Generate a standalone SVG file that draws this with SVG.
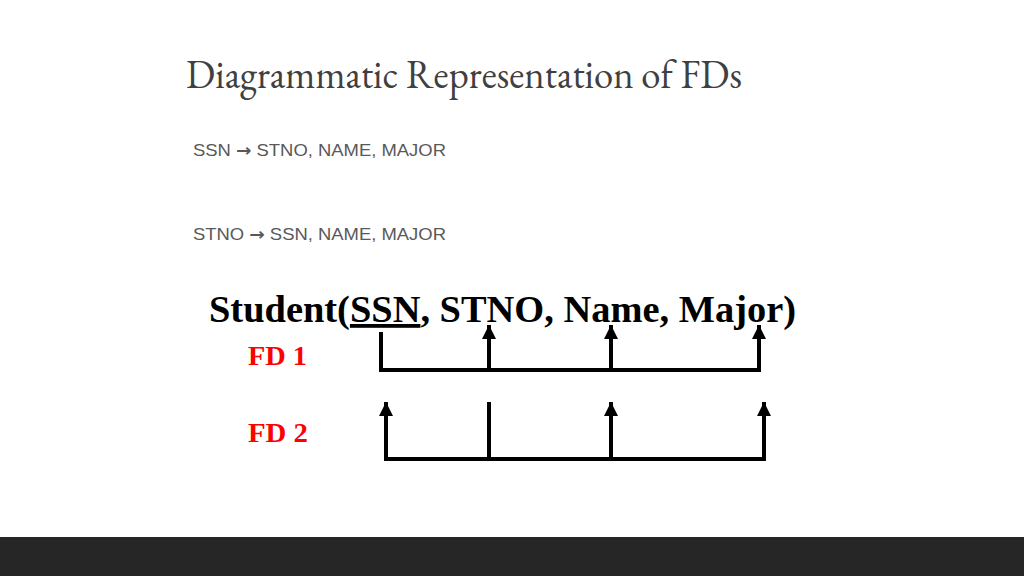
<svg xmlns="http://www.w3.org/2000/svg" width="1024" height="576" viewBox="0 0 1024 576">
<defs>
<style>
.title{font-family:"EB Garamond","Liberation Serif","DejaVu Serif",serif;font-size:40px;fill:#404040}
.fd{font-family:"Liberation Sans",Arial,sans-serif;font-size:17px;fill:#595959}
.arw{font-family:"DejaVu Sans",sans-serif;font-weight:bold}
.rel{font-family:"Liberation Serif","Times New Roman",serif;font-size:38px;font-weight:bold;fill:#000}
.lab{font-family:"Liberation Serif","Times New Roman",serif;font-size:28px;font-weight:bold;fill:#ff0000}
.ln{fill:none;stroke:#000;stroke-width:4;stroke-linejoin:miter}
</style>
<marker id="ah" markerUnits="userSpaceOnUse" markerWidth="16" markerHeight="16" refX="14" refY="7" orient="auto">
<path d="M0,0 L14,7 L0,14 z" fill="#000"/>
</marker>
</defs>
<rect width="1024" height="576" fill="#ffffff"/>
<g id="title"><text class="title" x="186" y="88" textLength="556" lengthAdjust="spacingAndGlyphs">Diagrammatic Representation of FDs</text></g>
<g id="fd-text-1"><text class="fd" x="193" y="156" textLength="253" lengthAdjust="spacingAndGlyphs">SSN <tspan class="arw">→</tspan> STNO, NAME, MAJOR</text></g>
<g id="fd-text-2"><text class="fd" x="193" y="240" textLength="253" lengthAdjust="spacingAndGlyphs">STNO <tspan class="arw">→</tspan> SSN, NAME, MAJOR</text></g>
<g id="relation"><text class="rel" x="209" y="322" textLength="587" lengthAdjust="spacingAndGlyphs">Student(<tspan text-decoration="underline">SSN</tspan>, STNO, Name, Major)</text></g>
<g id="label-fd1"><text class="lab" x="248" y="365" textLength="59" lengthAdjust="spacingAndGlyphs">FD 1</text></g>
<g id="label-fd2"><text class="lab" x="248" y="442" textLength="60" lengthAdjust="spacingAndGlyphs">FD 2</text></g>
<g id="connectors">
<path class="ln" d="M381,332 V370 H759 V339"/>
<line class="ln" x1="489" y1="370" x2="489" y2="325" marker-end="url(#ah)"/>
<line class="ln" x1="611" y1="370" x2="611" y2="325" marker-end="url(#ah)"/>
<line class="ln" x1="759" y1="372" x2="759" y2="325" marker-end="url(#ah)"/>
<path class="ln" d="M386,417 V459 H764 V417"/>
<line class="ln" x1="386" y1="459" x2="386" y2="402" marker-end="url(#ah)"/>
<line class="ln" x1="489" y1="459" x2="489" y2="402"/>
<line class="ln" x1="611" y1="459" x2="611" y2="402" marker-end="url(#ah)"/>
<line class="ln" x1="764" y1="461" x2="764" y2="402" marker-end="url(#ah)"/>
</g>
<rect id="footer-bar" x="0" y="537" width="1024" height="39" fill="#262626"/>
</svg>
